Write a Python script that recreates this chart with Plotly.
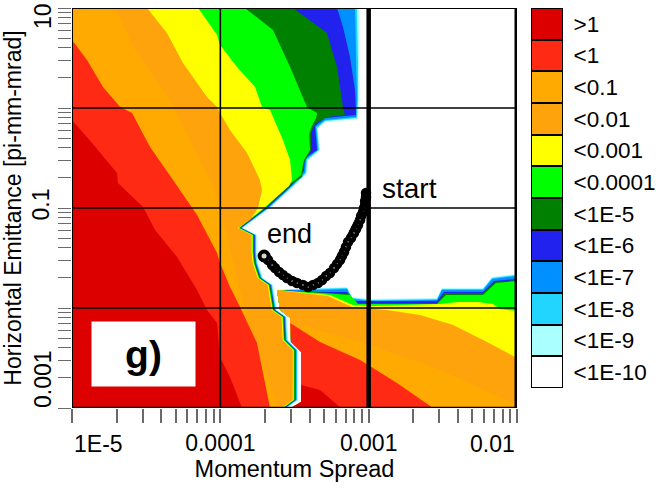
import numpy as np
import plotly.graph_objects as go

# Legend levels (top to bottom) and their colours
level_labels = [">1", "<1", "<0.1", "<0.01", "<0.001", "<0.0001", "<1E-5", "<1E-6", "<1E-7", "<1E-8", "<1E-9", "<1E-10"]
level_colors = ["#DC0000", "#FF2A14", "#FFAA00", "#FFA30C", "#FFFF00", "#00FF00", "#008000", "#2222EE", "#0090FF", "#22D5FF", "#AAFFFF", "#FFFFFF"]

# Contour boundaries, log10(momentum spread) / log10(emittance)
# Lower part of the aperture edge shared by the left-hand bands
edge_x = [-3.847, -3.753, -3.753, -3.746, -3.712, -3.645, -3.618, -3.551, -3.544, -3.476, -3.476, -3.551]
edge_y = [-1.20, -1.27, -1.44, -1.55, -1.70, -1.77, -2.02, -2.09, -2.32, -2.42, -2.92, -3.00]

pale_x = [-3.065, -3.065, -3.065, -3.072, -3.294, -3.342, -3.328, -3.409, -3.416, -3.497, -3.665]
pale_y = [1, 0.48, 0.08, -0.11, -0.14, -0.20, -0.42, -0.52, -0.65, -0.77, -1.00]
cyan_x = [-3.079, -3.072, -3.072, -3.079, -3.294, -3.348, -3.335, -3.416, -3.422, -3.503, -3.672]
cyan_y = [1, 0.48, 0.08, -0.10, -0.13, -0.20, -0.42, -0.52, -0.65, -0.77, -1.00]
azure_x = [-3.092, -3.085, -3.079, -3.085, -3.294, -3.355, -3.342, -3.422, -3.429, -3.510, -3.679]
azure_y = [1, 0.48, 0.08, -0.09, -0.12, -0.19, -0.42, -0.51, -0.64, -0.77, -1.00]
blue_x = [-3.213, -3.173, -3.126, -3.092, -3.085, -3.294, -3.362, -3.348, -3.429, -3.436, -3.517, -3.685]
blue_y = [1, 0.81, 0.51, 0.18, -0.07, -0.10, -0.18, -0.42, -0.50, -0.63, -0.77, -1.00]
dgreen_x = [-3.510, -3.281, -3.213, -3.173, -3.160, -3.281, -3.362, -3.389, -3.389, -3.436, -3.449, -3.524, -3.692]
dgreen_y = [1, 0.75, 0.41, 0.01, -0.07, -0.09, -0.16, -0.25, -0.42, -0.55, -0.69, -0.77, -1.00]
green_x = [-3.834, -3.645, -3.530, -3.416, -3.348, -3.355, -3.389, -3.402, -3.395, -3.436, -3.456, -3.530, -3.699]
green_y = [1, 0.78, 0.41, 0.01, -0.05, -0.10, -0.20, -0.27, -0.42, -0.52, -0.67, -0.76, -1.00]
yellow_x = [-4.150, -4.022, -4.002, -3.888, -3.766, -3.719, -3.665, -3.578, -3.530, -3.517, -3.537, -3.705]
yellow_y = [1, 0.73, 0.63, 0.41, 0.21, 0.01, -0.02, -0.32, -0.52, -0.72, -0.78, -1.00]
orange2_x = [-4.494, -4.360, -4.252, -4.090, -4.022, -4.002, -3.935, -3.820, -3.733, -3.719, -3.746, -3.800]
orange2_y = [1, 0.75, 0.45, 0.11, 0.01, -0.05, -0.22, -0.45, -0.72, -0.82, -1.00, -1.12]
orange1_x = [-4.710, -4.575, -4.339, -4.137, -4.036, -3.968, -3.901, -3.834, -3.699, -3.611]
orange1_y = [1, 0.58, 0.08, -0.52, -0.82, -1.22, -1.62, -2.02, -2.62, -3.00]
red_x = [-5, -4.899, -4.791, -4.676, -4.595, -4.474, -4.319, -4.191, -4.157, -4.022, -4.002, -3.935, -3.867, -3.753, -3.665]
red_y = [0.68, 0.48, 0.21, 0.01, -0.05, -0.39, -0.72, -0.99, -1.07, -1.45, -1.55, -1.79, -1.99, -2.35, -3.00]
dred_x = [-5, -4.865, -4.697, -4.690, -4.521, -4.440, -4.292, -4.157, -4.090, -4.022, -4.002, -3.935, -3.854]
dred_y = [-0.12, -0.35, -0.65, -0.75, -0.99, -1.22, -1.49, -1.82, -2.02, -2.15, -2.49, -2.69, -3.00]

# Right-hand (low emittance) region: its left edge and the top of each band
rim_x = [-3.524, -3.456, -3.456, -3.524, -3.530, -3.598, -3.618]
rim_y = [-3.00, -2.94, -2.44, -2.34, -2.10, -2.02, -1.82]
r_pale_x = [-3.328, -3.146, -3.112, -2.991, -2.539, -2.506, -2.229, -2.168, -2.000]
r_pale_y = [-1.80, -1.79, -1.89, -1.91, -1.90, -1.80, -1.80, -1.69, -1.66]
r_cyan_y = [-1.81, -1.80, -1.90, -1.92, -1.91, -1.81, -1.81, -1.70, -1.67]
r_azure_y = [-1.82, -1.81, -1.91, -1.93, -1.92, -1.82, -1.82, -1.71, -1.68]
r_blue_x = [-3.328, -3.146, -3.099, -2.991, -2.539, -2.492, -2.229, -2.155, -2.000]
r_blue_y = [-1.84, -1.84, -1.93, -1.93, -1.93, -1.84, -1.84, -1.73, -1.71]
r_dgreen_x = [-3.261, -3.133, -3.085, -2.991, -2.539, -2.485, -2.229, -2.148, -2.000]
r_dgreen_y = [-1.85, -1.86, -1.95, -1.95, -1.95, -1.85, -1.85, -1.74, -1.72]
r_green_x = [-3.261, -3.126, -3.072, -2.991, -2.539, -2.479, -2.229, -2.142, -2.000]
r_green_y = [-1.86, -1.87, -1.96, -1.96, -1.96, -1.87, -1.87, -1.75, -1.73]
r_yellow_x = [-3.261, -3.106, -2.991, -2.519, -2.398, -2.263, -2.162, -2.115, -2.000]
r_yellow_y = [-1.87, -1.97, -1.98, -1.96, -1.94, -1.94, -1.96, -2.01, -2.03]
r_orange2_x = [-3.274, -3.112, -2.876, -2.654, -2.431, -2.202, -2.000]
r_orange2_y = [-1.88, -1.99, -2.02, -2.07, -2.17, -2.34, -2.50]
r_orange1_x = [-3.456, -2.991, -2.519, -2.000]
r_orange1_y = [-2.17, -2.37, -2.62, -2.97]
r_red_x = [-3.530, -3.328, -3.058, -2.809, -2.566]
r_red_y = [-2.15, -2.34, -2.52, -2.75, -3.00]
r_dred_x = [-3.456, -3.328, -3.186]
r_dred_y = [-2.77, -2.82, -3.00]

# Beam trajectory, start to end
path_x = [-3.018, -3.018, -3.024, -3.024, -3.031, -3.038, -3.051, -3.058, -3.072, -3.085, -3.099, -3.119, -3.139, -3.153, -3.166, -3.180, -3.193, -3.213, -3.233, -3.261, -3.287, -3.314, -3.342, -3.375, -3.409, -3.443, -3.483, -3.517, -3.551, -3.578, -3.604, -3.631, -3.651, -3.678, -3.705]
path_y = [-0.85, -0.89, -0.93, -0.97, -1.00, -1.04, -1.08, -1.12, -1.17, -1.21, -1.25, -1.30, -1.34, -1.39, -1.44, -1.48, -1.52, -1.56, -1.60, -1.65, -1.68, -1.72, -1.75, -1.77, -1.79, -1.77, -1.75, -1.73, -1.70, -1.67, -1.64, -1.60, -1.57, -1.52, -1.48]

W, H = 664, 494
XL, XR, YT, YB = 72, 517, 8, 408


def px(v):
    return np.power(10.0, np.asarray(v, dtype=float))


fig = go.Figure()


def poly(x, y, color, name):
    fig.add_trace(go.Scatter(x=px(x), y=px(y), mode="lines", fill="toself", fillcolor=color,
                             line=dict(width=0, color=color), name=name, showlegend=False, hoverinfo="name"))


# left-hand bands, outermost first: (colour index, boundary, inset of shared edge)
left = [(10, pale_x, pale_y, 0.000), (9, cyan_x, cyan_y, 0.007), (8, azure_x, azure_y, 0.012),
        (7, blue_x, blue_y, 0.016), (6, dgreen_x, dgreen_y, 0.020), (5, green_x, green_y, 0.025),
        (4, yellow_x, yellow_y, 0.030), (3, orange2_x, orange2_y, 0.036)]
for i, bx, by, inset in left:
    ex = [v - inset for v in edge_x]
    poly([-5] + bx + ex + [-5], [1] + by + edge_y + [-3], level_colors[i], level_labels[i])
poly([-5] + orange1_x + [-5], [1] + orange1_y + [-3], level_colors[2], level_labels[2])
poly(red_x + [-5], red_y + [-3], level_colors[1], level_labels[1])
poly(dred_x + [-5], dred_y + [-3], level_colors[0], level_labels[0])

# right-hand bands
right = [(10, r_pale_x, r_pale_y), (9, r_pale_x, r_cyan_y), (8, r_pale_x, r_azure_y), (7, r_blue_x, r_blue_y),
         (6, r_dgreen_x, r_dgreen_y), (5, r_green_x, r_green_y), (4, r_yellow_x, r_yellow_y),
         (3, r_orange2_x, r_orange2_y)]
for i, bx, by in right:
    poly(rim_x + bx + [-2, rim_x[0]], rim_y + by + [-3, -3], level_colors[i], level_labels[i])
poly(rim_x[:2] + r_orange1_x + [-2, rim_x[0]], rim_y[:2] + r_orange1_y + [-3, -3], level_colors[2], level_labels[2])
poly(rim_x[:5] + r_red_x + [rim_x[0]], rim_y[:5] + r_red_y + [-3], level_colors[1], level_labels[1])
poly(rim_x[:2] + r_dred_x + [rim_x[0]], rim_y[:2] + r_dred_y + [-3], level_colors[0], level_labels[0])

# grid and frame
frame = [([1e-5, 1e-2], [10, 10], 2), ([1e-5, 1e-2], [1, 1], 1.6), ([1e-5, 1e-2], [0.1, 0.1], 1.6),
         ([1e-5, 1e-2], [0.01, 0.01], 1.6), ([1e-5, 1e-2], [1e-3, 1e-3], 2.5), ([1e-5, 1e-5], [1e-3, 10], 2),
         ([1e-4, 1e-4], [1e-3, 10], 1.6), ([1e-3, 1e-3], [1e-3, 10], 4.5), ([1e-2, 1e-2], [1e-3, 10], 5)]
for fx, fy, w in frame:
    fig.add_trace(go.Scatter(x=fx, y=fy, mode="lines", line=dict(color="black", width=w), showlegend=False,
                             hoverinfo="skip", cliponaxis=False))

# trajectory
fig.add_trace(go.Scatter(x=px(path_x), y=px(path_y), mode="lines+markers", name="trajectory", showlegend=False,
                         line=dict(color="black", width=8),
                         marker=dict(symbol="circle", size=6, color="#D8D8CC", line=dict(color="black", width=4.5)),
                         cliponaxis=False))
fig.add_trace(go.Scatter(x=px(path_x[-1:]), y=px(path_y[-1:]), mode="markers", showlegend=False, hoverinfo="skip",
                         marker=dict(symbol="circle", size=9, color="#D8D8CC", line=dict(color="black", width=4))))

# level key
fig.add_trace(go.Bar(x=[1] * 12, y=level_labels, orientation="h", xaxis="x2", yaxis="y2", showlegend=False,
                     marker=dict(color=level_colors, line=dict(color="black", width=2)), width=1, hoverinfo="y"))

FONT = "Liberation Sans, Arial, sans-serif"
GREY = "#6A6A6A"
digits = [2, 3, 4, 5, 6, 7, 8, 9]
minor_x = [d * 10.0 ** e for e in (-5, -4, -3) for d in digits]
minor_y = [d * 10.0 ** e for e in (-3, -2, -1, 0) for d in digits]

fig.update_layout(
    width=W, height=H, margin=dict(l=0, r=0, t=0, b=0), autosize=False,
    paper_bgcolor="white", plot_bgcolor="white", showlegend=False, barmode="overlay", bargap=0,
    font=dict(family=FONT, size=23, color="black"),
    xaxis=dict(type="log", range=[-5, -2], domain=[XL / W, XR / W], anchor="y", showgrid=False, zeroline=False,
               tickmode="array", tickvals=[1e-5, 1e-4, 1e-3, 1e-2], ticktext=["", "0.0001", "0.001", ""],
               ticks="outside", ticklen=14, tickwidth=1.5, tickcolor=GREY, tickangle=0,
               tickfont=dict(size=23),
               minor=dict(tickmode="array", tickvals=minor_x, ticks="outside", ticklen=14, tickwidth=1.5, tickcolor=GREY),
               title=dict(text="Momentum Spread", font=dict(size=23.5), standoff=4)),
    yaxis=dict(type="log", range=[-3, 1], domain=[1 - YB / H, 1 - YT / H], anchor="x", showgrid=False, zeroline=False,
               tickmode="array", tickvals=[10, 1, 0.1, 0.01, 0.001], ticktext=["", "", "0.1", "", ""],
               ticks="outside", ticklen=13, tickwidth=1, tickcolor=GREY, tickangle=-90,
               tickfont=dict(size=23),
               minor=dict(tickmode="array", tickvals=minor_y, ticks="outside", ticklen=13, tickwidth=1, tickcolor=GREY),
               title=dict(text="Horizontal Emittance [pi-mm-mrad]", font=dict(size=23), standoff=1)),
    xaxis2=dict(domain=[531 / W, 563 / W], range=[0, 1], anchor="y2", visible=False, fixedrange=True),
    yaxis2=dict(domain=[1 - 388 / H, 1 - 8 / H], anchor="x2", side="right", type="category", autorange="reversed",
                categoryorder="array", categoryarray=level_labels, showgrid=False, zeroline=False, showline=False,
                ticks="outside", ticklen=5, tickcolor="rgba(0,0,0,0)", tickfont=dict(size=22.5), fixedrange=True),
    annotations=[
        dict(text="1E-5", xref="x", yref="paper", x=-5, y=1 - 444 / H, xanchor="left", yanchor="middle",
             showarrow=False, font=dict(size=23)),
        dict(text="0.01", xref="x", yref="paper", x=-2, y=1 - 444 / H, xanchor="right", yanchor="middle",
             showarrow=False, font=dict(size=23)),
        dict(text="10", xref="paper", yref="y", x=43 / W, y=0.92, xanchor="center", yanchor="middle",
             textangle=-90, showarrow=False, font=dict(size=23)),
        dict(text="0.001", xref="paper", yref="y", x=43 / W, y=-2.71, xanchor="center", yanchor="middle",
             textangle=-90, showarrow=False, font=dict(size=23)),
        dict(text="start", xref="x", yref="y", x=-2.925, y=-0.80, xanchor="left", yanchor="middle",
             showarrow=False, font=dict(size=28)),
        dict(text="end", xref="x", yref="y", x=-3.70, y=-1.26, xanchor="left", yanchor="middle",
             showarrow=False, font=dict(size=27)),
        dict(text="<b>g)</b>", xref="x", yref="y", x=-4.52, y=-2.46, xanchor="center", yanchor="middle",
             showarrow=False, font=dict(size=39), bgcolor="white", width=103, height=64, borderpad=0),
    ],
)

fig.write_html("out.html", config=dict(displayModeBar=False), post_script="document.body.style.margin='0';")
